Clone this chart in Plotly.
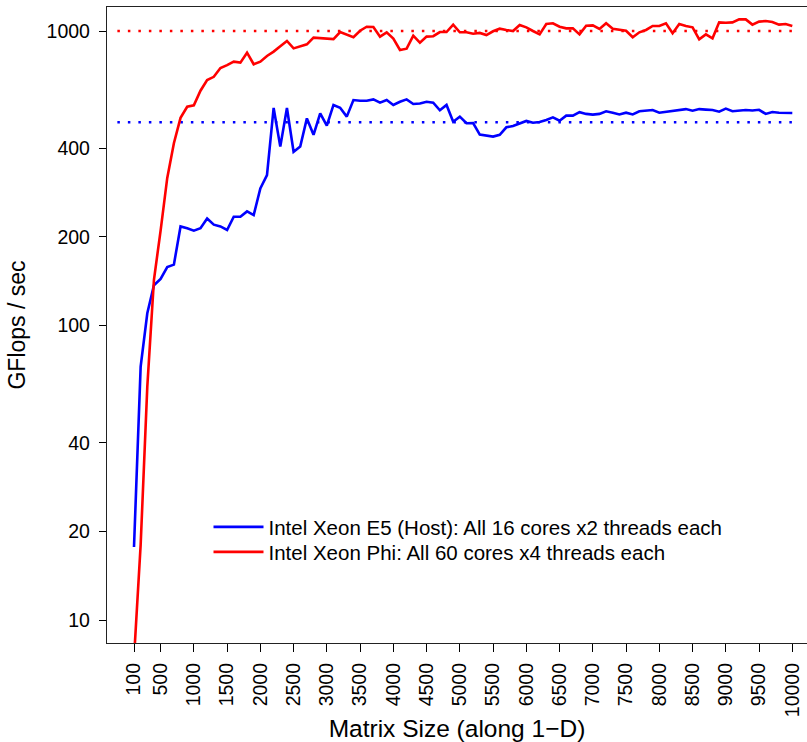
import plotly.graph_objects as go

matrix_sizes = list(range(100, 10001, 100))

phi_gflops = [
    7.4, 18.0, 62, 143, 210, 317, 416, 507, 553, 559,
    627, 682, 699, 749, 766, 787, 781, 844, 771, 787,
    823, 851, 887, 925, 873, 885, 901, 949, 947, 942,
    939, 992, 969, 952, 1002, 1034, 1032, 957, 990, 942,
    862, 871, 964, 913, 957, 960, 992, 992, 1051, 990,
    990, 979, 985, 969, 998, 1018, 1008, 1000, 1048, 1029,
    1000, 974, 1056, 1062, 1034, 1021, 1021, 974, 1042, 1045,
    1016, 1062, 1018, 1010, 1002, 952, 990, 1008, 1040, 1040,
    1062, 982, 1056, 1040, 1029, 937, 974, 944, 1070, 1067,
    1070, 1095, 1095, 1051, 1076, 1081, 1073, 1051, 1056, 1040,
]

host_gflops = [
    17.7, 72.5, 110, 137, 144, 158, 161, 217, 214, 210,
    214, 231, 220, 217, 211, 234, 234, 244, 237, 292,
    324, 548, 405, 548, 389, 405, 505, 444, 525, 477,
    561, 549, 512, 583, 580, 580, 586, 571, 583, 561,
    575, 586, 565, 567, 575, 571, 538, 561, 492, 512,
    486, 487, 445, 442, 438, 444, 471, 476, 486, 495,
    488, 491, 499, 509, 496, 516, 516, 530, 523, 520,
    523, 534, 528, 521, 528, 521, 534, 536, 539, 528,
    532, 536, 539, 543, 536, 543, 541, 539, 532, 545,
    534, 537, 539, 537, 540, 523, 531, 528, 527, 527,
]

host_name = "Intel Xeon E5 (Host): All 16 cores x2 threads each"
phi_name = "Intel Xeon Phi: All 60 cores x4 threads each"

phi_peak = 1000
host_peak = 490
ref_x = [-150, 10090]

x_tickvals = [100] + list(range(500, 10001, 500))
x_ticktext = [str(v) for v in x_tickvals]
y_tickvals = [10, 20, 40, 100, 200, 400, 1000]
y_ticktext = [str(v) for v in y_tickvals]

BLUE = "#0000FF"
RED = "#FF0000"
FONT = "Liberation Sans, Arial, Helvetica, sans-serif"

fig = go.Figure()

fig.add_trace(go.Scatter(x=ref_x, y=[phi_peak, phi_peak], mode="lines",
                         line=dict(color=RED, width=2.5, dash="2.5px,8px"),
                         showlegend=False, hoverinfo="skip"))
fig.add_trace(go.Scatter(x=ref_x, y=[host_peak, host_peak], mode="lines",
                         line=dict(color=BLUE, width=2.5, dash="2.5px,8px"),
                         showlegend=False, hoverinfo="skip"))

fig.add_trace(go.Scatter(x=matrix_sizes, y=host_gflops, mode="lines", name=host_name,
                         line=dict(color=BLUE, width=2.6), legend="legend"))
fig.add_trace(go.Scatter(x=matrix_sizes, y=phi_gflops, mode="lines", name=phi_name,
                         line=dict(color=RED, width=2.6), legend="legend2"))

legend_common = dict(xanchor="left", yanchor="top", bgcolor="rgba(0,0,0,0)",
                     borderwidth=0, itemwidth=50, font=dict(size=20.5, family=FONT))

fig.update_layout(
    width=807, height=742,
    margin=dict(l=107, r=0, t=7, b=99, autoexpand=False),
    paper_bgcolor="white", plot_bgcolor="white",
    font=dict(family=FONT, color="black", size=19),
    legend=dict(x=0.145, y=0.2138, **legend_common),
    legend2=dict(x=0.145, y=0.1745, **legend_common),
    showlegend=True,
)

fig.update_xaxes(
    automargin=False,
    range=[-306, 10221], tickvals=x_tickvals, ticktext=x_ticktext,
    tickangle=-90, ticks="outside", ticklen=8, tickcolor="black", tickwidth=1,
    ticklabelstandoff=3,
    showline=True, linecolor="#222", linewidth=1.3, mirror=True,
    showgrid=False, zeroline=False,
    tickfont=dict(size=19.5),
    title=dict(text="Matrix Size (along 1\u2212D)", font=dict(size=24.5), standoff=6),
)
fig.update_yaxes(
    automargin=False,
    type="log", range=[0.922, 3.0815], tickvals=y_tickvals, ticktext=y_ticktext,
    ticks="outside", ticklen=7, tickcolor="black", tickwidth=1,
    ticklabelstandoff=5,
    showline=True, linecolor="#222", linewidth=1.3,
    showgrid=False, zeroline=False,
    tickfont=dict(size=19.5),
    title=dict(text="GFlops / sec", font=dict(size=23), standoff=14),
)

fig.write_html("out.html",
               config={"displayModeBar": False},
               post_script="document.body.style.margin='0px';document.body.style.padding='0px';")
